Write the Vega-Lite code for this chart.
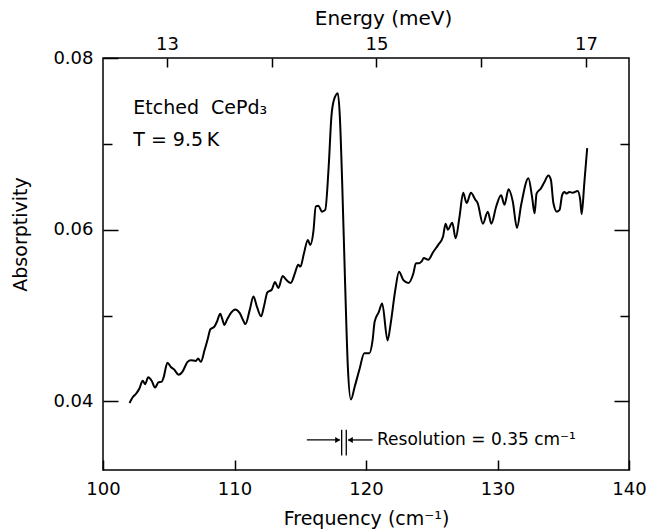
{
  "$schema": "https://vega.github.io/schema/vega-lite/v6.json",
  "width": 526,
  "height": 412,
  "autosize": "none",
  "padding": {"left": 103, "top": 58, "right": 25, "bottom": 59},
  "background": "white",
  "config": {
    "view": {"stroke": "black", "strokeWidth": 1.5},
    "font": "DejaVu Sans",
    "axis": {
      "domain": false,
      "grid": false,
      "tickColor": "black",
      "tickWidth": 1.5,
      "labelColor": "black",
      "titleColor": "black",
      "labelFont": "DejaVu Sans",
      "titleFont": "DejaVu Sans",
      "labelFontSize": 18,
      "titleFontSize": 19,
      "titleFontWeight": "normal",
      "labelFlush": false,
      "labelOverlap": false
    }
  },
  "datasets": {
    "spectrum": [
      {"x": 102.02, "y": 0.0398}, {"x": 102.27, "y": 0.0405}, {"x": 102.52, "y": 0.0409}, {"x": 102.77, "y": 0.0415},
      {"x": 103.02, "y": 0.0424}, {"x": 103.20, "y": 0.0420}, {"x": 103.44, "y": 0.0428}, {"x": 103.70, "y": 0.0424},
      {"x": 103.96, "y": 0.0416}, {"x": 104.21, "y": 0.0422}, {"x": 104.47, "y": 0.0423}, {"x": 104.61, "y": 0.0428},
      {"x": 104.90, "y": 0.0445}, {"x": 105.16, "y": 0.0440}, {"x": 105.41, "y": 0.0437}, {"x": 105.75, "y": 0.0431},
      {"x": 106.06, "y": 0.0435}, {"x": 106.43, "y": 0.0446}, {"x": 106.68, "y": 0.0448}, {"x": 107.06, "y": 0.0447},
      {"x": 107.23, "y": 0.0450}, {"x": 107.44, "y": 0.0446}, {"x": 107.73, "y": 0.0460}, {"x": 107.97, "y": 0.0473},
      {"x": 108.17, "y": 0.0484}, {"x": 108.47, "y": 0.0487}, {"x": 108.67, "y": 0.0493}, {"x": 108.92, "y": 0.0502},
      {"x": 109.05, "y": 0.0497}, {"x": 109.23, "y": 0.0489}, {"x": 109.43, "y": 0.0495}, {"x": 109.73, "y": 0.0503},
      {"x": 110.06, "y": 0.0507}, {"x": 110.39, "y": 0.0503}, {"x": 110.70, "y": 0.0493}, {"x": 110.83, "y": 0.0490},
      {"x": 111.15, "y": 0.0506}, {"x": 111.44, "y": 0.0522}, {"x": 111.71, "y": 0.0510}, {"x": 112.02, "y": 0.0499},
      {"x": 112.26, "y": 0.0512}, {"x": 112.50, "y": 0.0527}, {"x": 112.83, "y": 0.0530}, {"x": 113.08, "y": 0.0539},
      {"x": 113.34, "y": 0.0532}, {"x": 113.66, "y": 0.0546}, {"x": 113.97, "y": 0.0541}, {"x": 114.28, "y": 0.0538},
      {"x": 114.59, "y": 0.0549}, {"x": 114.84, "y": 0.0559}, {"x": 115.02, "y": 0.0557}, {"x": 115.26, "y": 0.0571},
      {"x": 115.58, "y": 0.0588}, {"x": 115.76, "y": 0.0582}, {"x": 116.00, "y": 0.0598}, {"x": 116.18, "y": 0.0627},
      {"x": 116.38, "y": 0.0628}, {"x": 116.65, "y": 0.0621}, {"x": 116.90, "y": 0.0623}, {"x": 117.16, "y": 0.0673},
      {"x": 117.37, "y": 0.0732}, {"x": 117.56, "y": 0.0751}, {"x": 117.86, "y": 0.0759}, {"x": 118.01, "y": 0.0732},
      {"x": 118.19, "y": 0.0654}, {"x": 118.41, "y": 0.0538}, {"x": 118.62, "y": 0.0440}, {"x": 118.85, "y": 0.0402},
      {"x": 119.14, "y": 0.0417}, {"x": 119.50, "y": 0.0437}, {"x": 119.87, "y": 0.0456}, {"x": 120.25, "y": 0.0456},
      {"x": 120.50, "y": 0.0471}, {"x": 120.66, "y": 0.0493}, {"x": 120.97, "y": 0.0504}, {"x": 121.23, "y": 0.0514},
      {"x": 121.64, "y": 0.0471}, {"x": 121.88, "y": 0.0491}, {"x": 122.23, "y": 0.0530}, {"x": 122.51, "y": 0.0551},
      {"x": 122.85, "y": 0.0541}, {"x": 123.23, "y": 0.0538}, {"x": 123.60, "y": 0.0549}, {"x": 123.80, "y": 0.0561},
      {"x": 124.05, "y": 0.0561}, {"x": 124.23, "y": 0.0563}, {"x": 124.40, "y": 0.0567}, {"x": 124.73, "y": 0.0565},
      {"x": 125.11, "y": 0.0574}, {"x": 125.48, "y": 0.0582}, {"x": 125.86, "y": 0.0592}, {"x": 126.05, "y": 0.0607},
      {"x": 126.23, "y": 0.0600}, {"x": 126.56, "y": 0.0608}, {"x": 126.82, "y": 0.0590}, {"x": 127.11, "y": 0.0615},
      {"x": 127.39, "y": 0.0643}, {"x": 127.65, "y": 0.0631}, {"x": 127.98, "y": 0.0643}, {"x": 128.31, "y": 0.0635},
      {"x": 128.49, "y": 0.0631}, {"x": 128.89, "y": 0.0607}, {"x": 129.26, "y": 0.0621}, {"x": 129.53, "y": 0.0607},
      {"x": 129.90, "y": 0.0627}, {"x": 130.27, "y": 0.0640}, {"x": 130.53, "y": 0.0629}, {"x": 130.84, "y": 0.0647},
      {"x": 131.16, "y": 0.0633}, {"x": 131.48, "y": 0.0602}, {"x": 131.80, "y": 0.0629}, {"x": 132.35, "y": 0.0660},
      {"x": 132.63, "y": 0.0638}, {"x": 132.82, "y": 0.0619}, {"x": 132.97, "y": 0.0642}, {"x": 133.30, "y": 0.0648},
      {"x": 133.55, "y": 0.0655}, {"x": 133.87, "y": 0.0663}, {"x": 134.06, "y": 0.0658}, {"x": 134.25, "y": 0.0631},
      {"x": 134.51, "y": 0.0621}, {"x": 134.72, "y": 0.0623}, {"x": 134.91, "y": 0.0640}, {"x": 135.08, "y": 0.0644},
      {"x": 135.26, "y": 0.0642}, {"x": 135.46, "y": 0.0644}, {"x": 135.72, "y": 0.0643}, {"x": 136.09, "y": 0.0645},
      {"x": 136.29, "y": 0.0635}, {"x": 136.40, "y": 0.0618}, {"x": 136.60, "y": 0.0654}, {"x": 136.82, "y": 0.0695}
    ]
  },
  "layer": [
    {
      "encoding": {
        "x": {
          "field": "x", "type": "quantitative",
          "scale": {"domain": [100, 140], "nice": false, "zero": false},
          "axis": {
            "orient": "bottom",
            "values": [100, 110, 120, 130, 140],
            "tickSize": -10,
            "labelPadding": 20,
            "title": "Frequency (cm⁻¹)",
            "titlePadding": 11
          }
        },
        "y": {
          "field": "y", "type": "quantitative",
          "scale": {"domain": [0.032, 0.08], "nice": false, "zero": false},
          "axis": {
            "orient": "left",
            "values": [0.04, 0.05, 0.06, 0.07, 0.08],
            "labelExpr": "round(datum.value*1000) % 20 == 0 ? format(datum.value, '.2f') : ''",
            "tickSize": {"condition": {"test": "round(datum.value*1000) % 20 == 0", "value": -15}, "value": -9},
            "labelPadding": 25,
            "title": "Absorptivity",
            "titlePadding": 22,
            "titleY": 176
          }
        }
      },
      "layer": [
        {
          "data": {"name": "spectrum"},
          "mark": {"type": "line", "color": "black", "strokeWidth": 2, "interpolate": "monotone"}
        },
        {
          "data": {"values": [
            {"x": 102.3, "y": 0.0742, "t": "Etched\u00a0\u00a0CePd₃"},
            {"x": 102.3, "y": 0.0705, "t": "T = 9.5\u2009K"}
          ]},
          "mark": {"type": "text", "align": "left", "baseline": "middle", "fontSize": 19, "font": "DejaVu Sans", "color": "black"},
          "encoding": {"text": {"field": "t"}}
        },
        {
          "data": {"values": [
            {"x": 120.84, "y": 0.0355, "t": "Resolution = 0.35 cm⁻¹"}
          ]},
          "mark": {"type": "text", "align": "left", "baseline": "middle", "fontSize": 17, "font": "DejaVu Sans", "color": "black"},
          "encoding": {"text": {"field": "t"}}
        },
        {
          "data": {"values": [
            {"x": 118.15, "y": 0.0337, "y2": 0.0367},
            {"x": 118.50, "y": 0.0337, "y2": 0.0367}
          ]},
          "mark": {"type": "rule", "color": "black", "strokeWidth": 1.3},
          "encoding": {"y2": {"field": "y2"}}
        },
        {
          "data": {"values": [
            {"x": 115.5, "x2": 118.0, "y": 0.0355},
            {"x": 118.65, "x2": 120.5, "y": 0.0355}
          ]},
          "mark": {"type": "rule", "color": "black", "strokeWidth": 1.3},
          "encoding": {"x2": {"field": "x2"}}
        },
        {
          "data": {"values": [
            {"x": 117.85, "y": 0.0355, "s": "triangle-right"},
            {"x": 118.80, "y": 0.0355, "s": "triangle-left"}
          ]},
          "mark": {"type": "point", "filled": true, "color": "black", "size": 35, "opacity": 1},
          "encoding": {"shape": {"field": "s", "type": "nominal", "scale": null}}
        }
      ]
    },
    {
      "data": {"values": [{"E": 12.39}, {"E": 17.41}]},
      "mark": {"type": "point", "opacity": 0},
      "encoding": {
        "x": {
          "field": "E", "type": "quantitative",
          "scale": {"domain": [12.39, 17.41], "nice": false, "zero": false},
          "axis": {
            "orient": "top",
            "values": [13, 14, 15, 16, 17],
            "labelExpr": "datum.value % 2 == 1 ? datum.label : ''",
            "tickSize": -9,
            "labelPadding": 14,
            "title": "Energy (meV)",
            "titleFontSize": 20,
            "titlePadding": 7,
            "titleX": 280
          }
        }
      }
    },
    {
      "data": {"values": [{"y": 0.04}]},
      "mark": {"type": "point", "opacity": 0},
      "encoding": {
        "y": {
          "field": "y", "type": "quantitative",
          "scale": {"domain": [0.032, 0.08], "nice": false, "zero": false},
          "axis": {
            "orient": "right",
            "values": [0.04, 0.05, 0.06, 0.07],
            "labels": false,
            "title": null,
            "tickSize": {"condition": {"test": "round(datum.value*1000) % 20 == 0", "value": -15}, "value": -9}
          }
        }
      }
    }
  ],
  "resolve": {
    "scale": {"x": "independent", "y": "independent"},
    "axis": {"x": "independent", "y": "independent"}
  }
}
